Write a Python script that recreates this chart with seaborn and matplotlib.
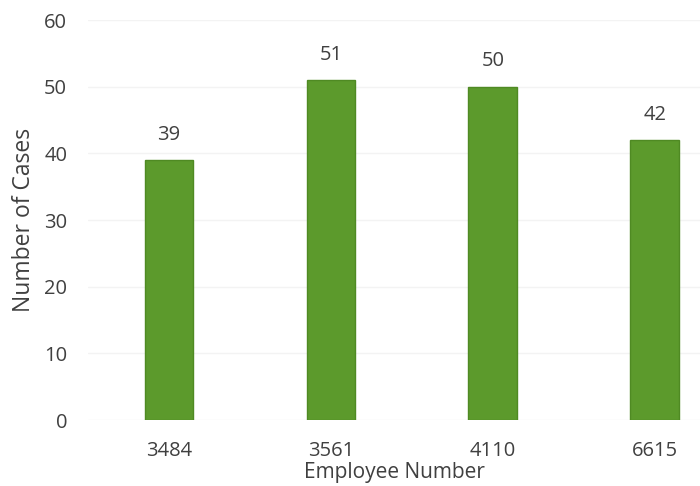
import matplotlib
matplotlib.use("Agg")
import matplotlib.pyplot as plt
import seaborn as sns
import pandas as pd

employees = ["3484", "3561", "4110", "6615"]
cases = [39, 51, 50, 42]
y_ticks = [0, 10, 20, 30, 40, 50, 60]

df = pd.DataFrame({"Employee Number": employees, "Number of Cases": cases})

sns.set_theme(style="white")
plt.rcParams["font.family"] = ["Open Sans", "DejaVu Sans"]
text_color = "#404040"

fig = plt.figure(figsize=(7.0, 4.86), dpi=100)
ax = fig.add_axes([88 / 700, (486 - 420) / 486, (700 - 88) / 700, 400 / 486])

sns.barplot(data=df, x="Employee Number", y="Number of Cases", ax=ax,
            color="#5c9a2c", saturation=1, width=0.3,
            edgecolor="#4f8a23", linewidth=1)

ax.set_ylim(0, 60)
ax.set_yticks(y_ticks)
ax.set_xlim(-0.5, 3.28)
ax.yaxis.grid(True, color="#f3f3f3", linewidth=1)
ax.set_axisbelow(True)
for s in ax.spines.values():
    s.set_visible(False)

ax.tick_params(axis="y", length=0, pad=15, labelsize=14.5, labelcolor=text_color)
ax.tick_params(axis="x", length=0, pad=15, labelsize=14.5, labelcolor=text_color)
ax.set_ylabel("Number of Cases", fontsize=16.5, color=text_color, va="center")
ax.yaxis.set_label_coords(-0.105, 0.5)
ax.set_xlabel("Employee Number", fontsize=15, color=text_color, va="center")
ax.xaxis.set_label_coords(0.5, -0.132)

for container in ax.containers:
    ax.bar_label(container, labels=[str(v) for v in cases], padding=11,
                 fontsize=14.5, color=text_color)

fig.savefig("out.png", dpi=100)
